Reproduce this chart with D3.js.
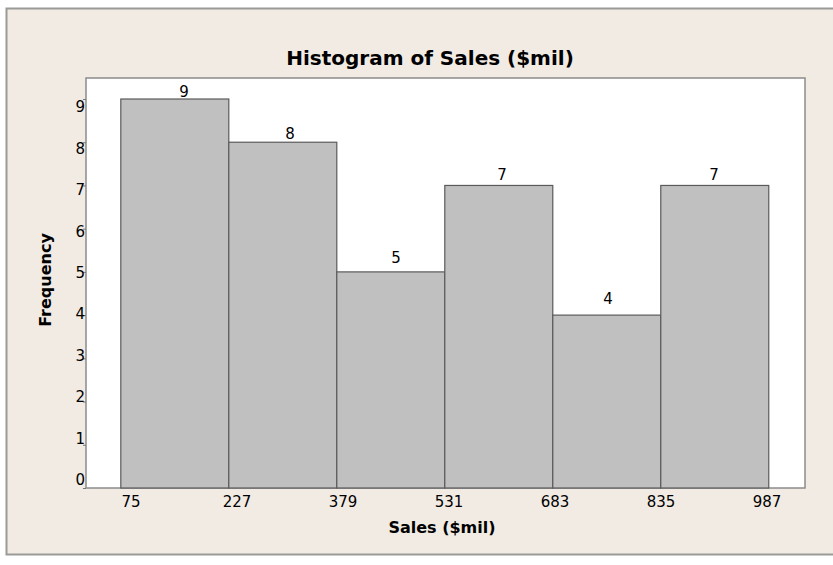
<!DOCTYPE html>
<html>
<head>
<meta charset="utf-8">
<script src="https://cdn.jsdelivr.net/npm/d3@7"></script>
<style>
    body { margin: 0; background: #fff; }
    svg text { font-family: "DejaVu Sans", Verdana, sans-serif; fill: #000; }
</style>
</head>
<body>
<svg id="chart" width="833" height="565"></svg>
<script>
// histogram bins of Sales ($mil)
const binEdges = [75, 227, 379, 531, 683, 835, 987];
const counts = [9, 8, 5, 7, 4, 7];
const yTicks = [0, 1, 2, 3, 4, 5, 6, 7, 8, 9];

const TITLE = "Histogram of Sales ($mil)";
const X_LABEL = "Sales ($mil)";
const Y_LABEL = "Frequency";

const PANEL_BG = "#f1ebe4";
const BAR_FILL = "#c0c0c0";
const BAR_STROKE = "#5a5a5a";

const plot = { left: 86, top: 78, right: 805, bottom: 488 };

const svg = d3.select("#chart");

// outer panel
svg.append("rect")
    .attr("x", 6.5).attr("y", 8.5)
    .attr("width", 840).attr("height", 546)
    .attr("fill", PANEL_BG)
    .attr("stroke", "#9a9a96")
    .attr("stroke-width", 2);

// inner data region
svg.append("rect")
    .attr("x", plot.left).attr("y", plot.top)
    .attr("width", plot.right - plot.left)
    .attr("height", plot.bottom - plot.top)
    .attr("fill", "#fff")
    .attr("stroke", "#8c8c8c")
    .attr("stroke-width", 1.5);

const x = d3.scaleLinear().domain([26, 1038]).range([plot.left, plot.right]);
const y = d3.scaleLinear().domain([0, 9.486]).range([plot.bottom, plot.top]);

// the text layer in the source sits slightly off the marks, so it gets its own scales
const xText = d3.scaleLinear().domain([75, 987]).range([131, 767]);
const yText = d3.scaleLinear().domain([0, 9]).range([480, 107]);

const bins = counts.map((c, i) => ({ x0: binEdges[i], x1: binEdges[i + 1], count: c }));

svg.append("g").attr("class", "bars")
    .selectAll("rect")
    .data(bins)
    .enter().append("rect")
        .attr("x", (d) => x(d.x0))
        .attr("y", (d) => y(d.count))
        .attr("width", (d) => x(d.x1) - x(d.x0))
        .attr("height", (d) => y(0) - y(d.count))
        .attr("fill", BAR_FILL)
        .attr("stroke", BAR_STROKE)
        .attr("stroke-width", 1.2);

// count labels over each bar
svg.append("g").attr("class", "counts")
    .selectAll("text")
    .data(bins)
    .enter().append("text")
        .attr("x", (d) => xText((d.x0 + d.x1) / 2))
        .attr("y", (d) => yText(d.count) - 15)
        .attr("dy", "0.35em")
        .attr("text-anchor", "middle")
        .style("font-size", "15px")
        .text((d) => d.count);

// axes
const xAxis = d3.axisBottom(x).tickValues(binEdges).tickSize(0).tickFormat(() => "");
const gx = svg.append("g")
    .attr("transform", "translate(0," + plot.bottom + ")")
    .call(xAxis);
gx.select(".domain").remove();

svg.append("g").attr("class", "x-labels")
    .selectAll("text")
    .data(binEdges)
    .enter().append("text")
        .attr("x", (d) => xText(d))
        .attr("y", 502)
        .attr("dy", "0.35em")
        .attr("text-anchor", "middle")
        .style("font-size", "15px")
        .text((d) => d);

const yAxis = d3.axisLeft(y).tickValues(yTicks).tickSize(3).tickFormat(() => "");
const gy = svg.append("g")
    .attr("transform", "translate(" + plot.left + ",0)")
    .call(yAxis);
gy.select(".domain").remove();
gy.selectAll("line").attr("stroke", "#777");

svg.append("g").attr("class", "y-labels")
    .selectAll("text")
    .data(yTicks)
    .enter().append("text")
        .attr("x", plot.left - 1)
        .attr("y", (d) => yText(d))
        .attr("dy", "0.35em")
        .attr("text-anchor", "end")
        .style("font-size", "15px")
        .text((d) => d);

// titles
svg.append("text")
    .attr("x", 430).attr("y", 58)
    .attr("dy", "0.35em")
    .attr("text-anchor", "middle")
    .style("font-size", "20px").style("font-weight", "bold")
    .text(TITLE);

svg.append("text")
    .attr("x", 442).attr("y", 527)
    .attr("dy", "0.35em")
    .attr("text-anchor", "middle")
    .style("font-size", "16px").style("font-weight", "bold")
    .text(X_LABEL);

svg.append("text")
    .attr("transform", "translate(45,280) rotate(-90)")
    .attr("dy", "0.35em")
    .attr("text-anchor", "middle")
    .style("font-size", "16px").style("font-weight", "bold")
    .text(Y_LABEL);
</script>
</body>
</html>
